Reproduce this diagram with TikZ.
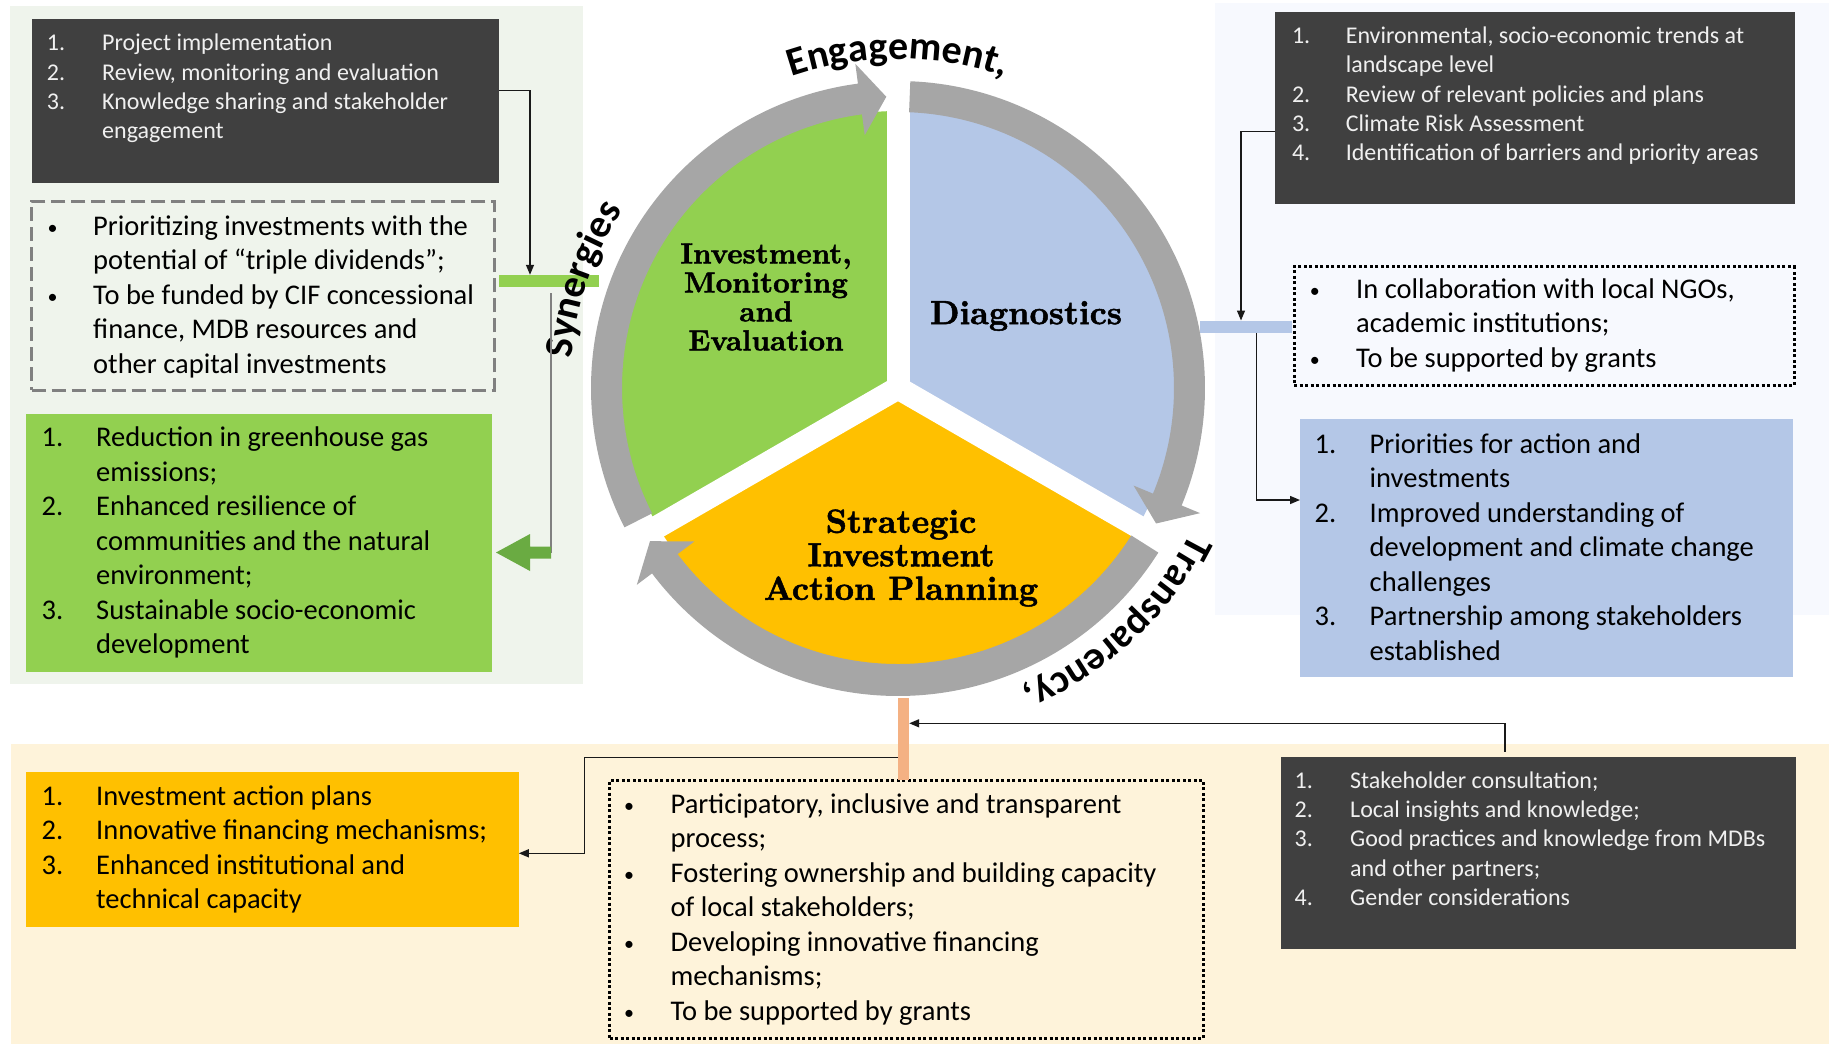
\documentclass[tikz,border=0pt]{standalone}
\usepackage{fontspec}
\newfontfamily\carlito{Carlito}
\newfontfamily\secfont{lmroman10-bold.otf}[FakeBold=1.5]
\usetikzlibrary{arrows.meta,decorations.text}
\definecolor{dbox}{HTML}{404040}
\definecolor{dtext}{HTML}{F0F0F0}
\definecolor{pgreen}{HTML}{EFF4EC}
\definecolor{pblue}{HTML}{F7F9FE}
\definecolor{pyellow}{HTML}{FEF3DA}
\definecolor{cgreen}{HTML}{92D050}
\definecolor{cblue}{HTML}{B4C7E7}
\definecolor{corange}{HTML}{FFC000}
\definecolor{ringgrey}{HTML}{A6A6A6}
\definecolor{obarc}{HTML}{F4B183}
\definecolor{garrowc}{HTML}{6AAB42}
\definecolor{dashgrey}{HTML}{808080}
\newcommand\curvefont{\carlito\bfseries\fontsize{40}{48}\selectfont}
\newcommand\bul{\hspace*{-4pt}\raisebox{1pt}{\fontsize{20}{20}\selectfont •}}
\begin{document}
\begin{tikzpicture}[x=1pt,y=1pt,
  boxbase/.style={anchor=north west, inner sep=0pt, outer sep=0pt},
  darkbox/.style={boxbase, fill=dbox},
  txt/.style={anchor=base west, inner sep=0pt, font=\carlito\fontsize{28.5}{34.5}\selectfont, text=black},
  dtxt/.style={anchor=base west, inner sep=0pt, font=\carlito\fontsize{24}{29.4}\selectfont, text=dtext},
  conn/.style={draw=black!90, line width=1.4pt},
  tipa/.style={-{Triangle[length=10pt,width=8pt]}},
  ringarrow/.style={fill=ringgrey},
  seclabel/.style={inner sep=0pt, align=center}
]
\useasboundingbox (0,0) rectangle (1829,-1044);
\fill[white] (0,0) rectangle (1829,-1044);
% panels
\fill[pgreen] (9.5,-6) rectangle (583,-684);
\fill[pblue] (1215,-3) rectangle (1829,-615);
\fill[pyellow] (11,-744) rectangle (1829,-1044);

% ---- left column
\node[darkbox, minimum width=467pt, minimum height=164pt] (d1) at (32.4,-19.3) {};
\node[dtxt] (d1t) at (46.7,-50.7) {\begin{tabular}[t]{@{}p{55.3pt}@{}l@{}}
1.&Project implementation\\
2.&Review, monitoring and evaluation\\
3.&Knowledge sharing and stakeholder\\
&engagement
\end{tabular}};

\node[boxbase, draw=dashgrey, line width=3pt, dash pattern=on 14pt off 6pt, minimum width=462.4pt, minimum height=189pt] (ds) at (31.6,-201) {};
\node[txt] (dst) at (51.4,-235) {\begin{tabular}[t]{@{}p{41.6pt}@{}l@{}}
\bul&Prioritizing investments with the\\
&potential of “triple dividends”;\\
\bul&To be funded by CIF concessional\\
&finance, MDB resources and\\
&other capital investments
\end{tabular}};

\node[boxbase, fill=cgreen, minimum width=466.3pt, minimum height=257.7pt] (gb) at (25.7,-414) {};
\node[txt] (gbt) at (41.5,-446.7) {\begin{tabular}[t]{@{}p{54.5pt}@{}l@{}}
1.&Reduction in greenhouse gas\\
&emissions;\\
2.&Enhanced resilience of\\
&communities and the natural\\
&environment;\\
3.&Sustainable socio-economic\\
&development
\end{tabular}};

% ---- right column
\node[darkbox, minimum width=519.6pt, minimum height=192.3pt] (d2) at (1275,-11.7) {};
\node[dtxt] (d2t) at (1291.8,-43.3) {\begin{tabular}[t]{@{}p{53.8pt}@{}l@{}}
1.&Environmental, socio-economic trends at\\
&landscape level\\
2.&Review of relevant policies and plans\\
3.&Climate Risk Assessment\\
4.&Identification of barriers and priority areas
\end{tabular}};

\node[boxbase, draw=black, line width=3pt, dash pattern=on 3pt off 2.5pt, minimum width=500pt, minimum height=118.3pt] (rs) at (1294,-266.7) {};
\node[txt] (rst) at (1313.7,-298) {\begin{tabular}[t]{@{}p{42.3pt}@{}l@{}}
\bul&In collaboration with local NGOs,\\
&academic institutions;\\
\bul&To be supported by grants
\end{tabular}};

\node[boxbase, fill=cblue, minimum width=492.6pt, minimum height=257.7pt] (bb) at (1300,-419) {};
\node[txt] (bbt) at (1314.5,-453) {\begin{tabular}[t]{@{}p{55pt}@{}l@{}}
1.&Priorities for action and\\
&investments\\
2.&Improved understanding of\\
&development and climate change\\
&challenges\\
3.&Partnership among stakeholders\\
&established
\end{tabular}};

% ---- bottom row
\node[boxbase, fill=corange, minimum width=493.1pt, minimum height=155pt] (ob) at (25.7,-771.7) {};
\node[txt] (obt) at (41.5,-805) {\begin{tabular}[t]{@{}p{54.5pt}@{}l@{}}
1.&Investment action plans\\
2.&Innovative financing mechanisms;\\
3.&Enhanced institutional and\\
&technical capacity
\end{tabular}};

\node[boxbase, draw=black, line width=3pt, dash pattern=on 3pt off 2.5pt, minimum width=593.5pt, minimum height=258pt] (bs) at (609.5,-780) {};
\node[txt] (bst) at (628,-813) {\begin{tabular}[t]{@{}p{42.5pt}@{}l@{}}
\bul&Participatory, inclusive and transparent\\
&process;\\
\bul&Fostering ownership and building capacity\\
&of local stakeholders;\\
\bul&Developing innovative financing\\
&mechanisms;\\
\bul&To be supported by grants
\end{tabular}};

\node[darkbox, minimum width=515.4pt, minimum height=192pt] (d3) at (1280.6,-757.3) {};
\node[dtxt] (d3t) at (1294.5,-788) {\begin{tabular}[t]{@{}p{55.5pt}@{}l@{}}
1.&Stakeholder consultation;\\
2.&Local insights and knowledge;\\
3.&Good practices and knowledge from MDBs\\
&and other partners;\\
4.&Gender considerations
\end{tabular}};

% ---- bars
\node[inner sep=0pt, fill=cgreen, minimum width=100pt, minimum height=12pt] (gbar) at (549,-281) {};
\node[inner sep=0pt, fill=cblue, minimum width=92pt, minimum height=12pt] (bbar) at (1246,-326.7) {};
\node[inner sep=0pt, fill=obarc, minimum width=11pt, minimum height=82pt] (obar) at (903.5,-739) {};

% ---- cycle
\begin{scope}[shift={(898,-388)}]
\fill[cgreen] (0,0) -- (90:277) arc[start angle=90,end angle=210,radius=277] -- cycle;
\fill[cblue] (0,0) -- (-30:277) arc[start angle=-30,end angle=90,radius=277] -- cycle;
\fill[corange] (0,0) -- (210:277) arc[start angle=210,end angle=330,radius=277] -- cycle;
\foreach \a in {90,210,330} \draw[white, line width=23pt, line cap=round] (0,0) -- (\a:296);
\fill[ringarrow] (207:307) arc[start angle=207,end angle=97.5,radius=307] -- (97.5:327) -- (92.3:291.5) -- (97.5:255) -- (97.5:276) arc[start angle=97.5,end angle=207,radius=276] -- cycle;
\fill[ringarrow] (87.7:307) arc[start angle=87.7,end angle=-22.5,radius=307] -- (-22.5:327) -- (-27.7:291.5) -- (-22.5:255) -- (-22.5:276) arc[start angle=-22.5,end angle=87.7,radius=276] -- cycle;
\fill[ringarrow] (-32.3:308) arc[start angle=-32.3,end angle=-143,radius=308] -- (-143:327) -- (-148.3:291.5) -- (-143:255) -- (-143:276) arc[start angle=-143,end angle=-32.3,radius=276] -- cycle;
\path[decorate, decoration={text along path, text={|\curvefont|Engagement,}, text align=center}] (120:329) arc[start angle=120,end angle=60,radius=329];
\path[decorate, decoration={text along path, text={|\curvefont|Synergies}, text align=center}] (181:328) arc[start angle=181,end angle=141,radius=328];
\path[decorate, decoration={text along path, text={|\curvefont|Transparency,}, text align=center}] (-20:326) arc[start angle=-20,end angle=-74,radius=326];
\end{scope}
\node[seclabel, font=\secfont\fontsize{29}{29}\selectfont] (lg) at (766,-297) {Investment,\\Monitoring\\and\\Evaluation};
\node[seclabel, font=\secfont\fontsize{33.5}{36}\selectfont] (ld) at (1026,-316) {Diagnostics};
\node[seclabel, font=\secfont\fontsize{33.5}{33.5}\selectfont] (lo) at (901,-558) {Strategic\\Investment\\Action Planning};

% ---- connectors
\draw[conn, tipa] ([yshift=10.6pt]d1.east) -| ([xshift=-19pt]gbar.north);
\coordinate (gtip) at (496,-552.5);
\draw[draw=dashgrey, line width=1.4pt] ([xshift=2pt,yshift=-6pt]gbar.south) -- (gtip -| 551,0);
\fill[garrowc] (gtip) -- ++(34,18.5) -- ++(0,-12.5) -- ++(21,0) -- ++(0,-12) -- ++(-21,0) -- ++(0,-12.5) -- cycle;
\draw[conn, tipa] ([yshift=-23.85pt]d2.west) -| ([xshift=-5pt]bbar.north);
\draw[conn, tipa] ([xshift=10.6pt]bbar.south) |- ([yshift=47.85pt]bb.west);
\draw[conn, tipa] ([xshift=-33.3pt,yshift=5.6pt]d3.north) |- ([yshift=15.7pt]obar.east);
\coordinate (obend) at (584.4,-757.3);
\draw[conn, tipa] ([yshift=-18.3pt]obar.west) -- (obend) |- ([yshift=-4.1pt]ob.east);
\end{tikzpicture}
\end{document}
